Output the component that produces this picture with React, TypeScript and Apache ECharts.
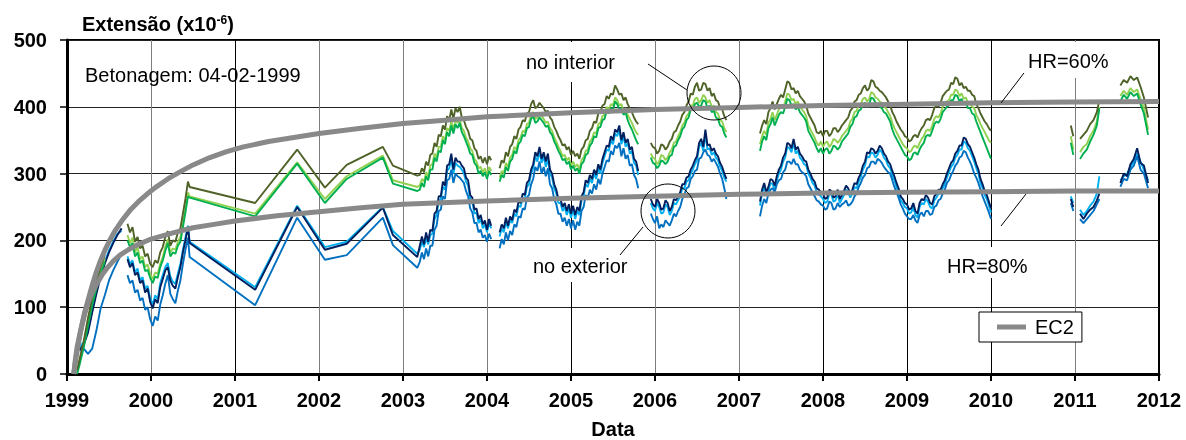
import React, { useEffect, useRef } from "react";
import * as echarts from "echarts";

const FONT = 'Arial, "Liberation Sans", Helvetica, sans-serif';

const X_MIN = 1999;
const X_MAX = 2012;
const Y_MIN = 0;
const Y_MAX = 500;

// sample times of the record, by segment: explicit lists, or a regular sampling {t0, dt}
type SegT = number[] | { t0: number; dt: number };
const SEG_TIMES: SegT[] = [
  [1999.12, 1999.15, 1999.2, 1999.25, 1999.3, 1999.35, 1999.4, 1999.45, 1999.5, 1999.55, 1999.6, 1999.65],
  [1999.72, 1999.75, 1999.78, 1999.81, 1999.84, 1999.87, 1999.9, 1999.93, 1999.96, 1999.99, 2000.02, 2000.05, 2000.08, 2000.11, 2000.14, 2000.17, 2000.2, 2000.23, 2000.26, 2000.29, 2000.32, 2000.35, 2000.38, 2000.41, 2000.44],
  [2000.46, 2001.24, 2001.74, 2002.07, 2002.33, 2002.76, 2002.88, 2003.17],
  { t0: 2003.2, dt: 0.025 },
  { t0: 2004.15, dt: 0.025 },
  { t0: 2005.95, dt: 0.025 },
  { t0: 2007.25, dt: 0.025 },
  [2010.95, 2010.98],
  [2011.06, 2011.1, 2011.14, 2011.18, 2011.22, 2011.26, 2011.29],
  [2011.54, 2011.58, 2011.62, 2011.66, 2011.7, 2011.74, 2011.78, 2011.82, 2011.87],
];
// the line is broken after these segments (no record in between)
const SEG_BREAK = [true, false, false, true, true, true, true, true, true, false];

// ---------- interior gauges (x10^-6) ----------
const INT_OLIVE: (number | null)[][] = [
  [6, 22, 50, 84, 114, 140, 160, 178, null, null, null, null],
  [225, 212, 220, 198, 205, 188, 192, 176, 180, 165, 160, 170, 166, 182, 190, 205, 214, 192, 200, 198, 212, 218, 240, 262, 288],
  [280, 256, 336, 279, 313, 340, 312, 297],
  [298, 308, 302, 318, 312, 328, 330, 346, 340, 358, 356, 372, 366, 386, 380, 396, 382, 398, 392, 400, 384, 380, 370, 364, 352, 350, 338, 334, 322, 326, 316, 324, 314, 326, 320],
  [308, 320, 316, 332, 326, 340, 344, 356, 352, 366, 370, 380, 378, 390, 392, 404, 410, 398, 400, 406, 402, 398, 392, 394, 384, 380, 370, 364, 356, 350, 342, 344, 336, 340, 328, 334, 326, 330, 322, 336, 340, 350, 352, 364, 368, 378, 376, 390, 392, 402, 404, 416, 412, 420, 418, 432, 426, 418, 420, 410, 414, 404, 398, 392, 384, 378, 374],
  [346, 340, 338, 330, 334, 344, 342, 336, 340, 348, 352, 362, 364, 372, 378, 388, 392, 402, 408, 420, 418, 430, 436, 424, 426, 436, 434, 424, 428, 416, 420, 410, 408, 398, 396, 386, 380],
  [360, 372, 380, 374, 392, 398, 408, 396, 404, 412, 418, 414, 426, 438, 436, 426, 428, 420, 424, 416, 412, 408, 402, 390, 384, 378, 372, 362, 360, 364, 356, 364, 364, 356, 360, 368, 368, 362, 366, 372, 376, 380, 384, 394, 398, 408, 410, 418, 420, 428, 432, 424, 428, 440, 438, 430, 428, 424, 422, 418, 414, 408, 402, 392, 386, 378, 372, 366, 362, 356, 354, 348, 350, 356, 358, 354, 362, 368, 372, 380, 382, 380, 388, 398, 402, 400, 406, 416, 420, 424, 426, 436, 434, 444, 442, 432, 436, 428, 430, 424, 424, 418, 416, 404, 398, 390, 384, 378, 374, 368, 364],
  [372, 356],
  [352, 358, 364, 374, 380, 392, 410],
  [432, 440, 436, 446, 440, 444, 430, 414, 384],
];
const INT_LIGHT: (number | null)[][] = [
  [3, 18, 45, 78, 108, 133, 154, 172, null, null, null, null],
  [208, 196, 204, 182, 190, 172, 176, 160, 164, 150, 142, 152, 150, 165, 175, 190, 202, 182, 188, 186, 198, 205, 225, 248, 272],
  [266, 240, 317, 262, 296, 327, 290, 280],
  [282, 292, 288, 302, 296, 312, 314, 330, 324, 340, 340, 356, 350, 368, 364, 378, 366, 380, 376, 382, 368, 364, 354, 348, 338, 334, 322, 318, 308, 310, 302, 308, 298, 310, 304],
  [294, 304, 300, 316, 310, 324, 328, 340, 336, 350, 354, 364, 362, 374, 376, 388, 392, 382, 384, 390, 386, 382, 376, 378, 368, 364, 354, 348, 340, 334, 326, 328, 320, 324, 312, 318, 310, 314, 306, 320, 324, 334, 336, 348, 352, 362, 360, 374, 376, 386, 388, 400, 396, 404, 402, 414, 410, 402, 404, 394, 398, 388, 382, 376, 368, 362, 358],
  [330, 324, 322, 314, 318, 328, 326, 320, 324, 332, 336, 346, 348, 356, 362, 372, 376, 386, 390, 402, 402, 412, 414, 406, 410, 418, 414, 406, 410, 400, 402, 392, 390, 380, 378, 368, 362],
  [344, 356, 364, 358, 376, 382, 392, 380, 388, 396, 400, 398, 408, 420, 418, 410, 412, 404, 408, 400, 396, 392, 386, 372, 366, 360, 354, 346, 342, 348, 340, 346, 348, 340, 344, 352, 350, 346, 350, 356, 360, 364, 368, 378, 382, 392, 394, 402, 404, 412, 414, 408, 412, 422, 420, 414, 412, 408, 406, 400, 398, 392, 386, 376, 368, 362, 356, 350, 344, 340, 338, 332, 334, 340, 342, 338, 346, 352, 356, 364, 366, 364, 372, 382, 386, 384, 390, 400, 404, 408, 410, 418, 418, 426, 424, 416, 420, 412, 414, 406, 406, 400, 398, 388, 382, 374, 368, 362, 356, 350, 346],
  [356, 336],
  [332, 340, 344, 356, 364, 378, 400],
  [416, 424, 418, 428, 422, 426, 412, 398, 366],
];
const INT_GREEN: (number | null)[][] = [
  [0, 14, 40, 72, 103, 128, 150, 168, null, null, null, null],
  [200, 190, 196, 176, 182, 166, 170, 154, 156, 144, 136, 146, 144, 160, 170, 184, 196, 176, 182, 180, 192, 198, 220, 242, 266],
  [264, 236, 315, 256, 292, 324, 285, 274],
  [276, 286, 280, 296, 290, 306, 306, 324, 318, 334, 332, 350, 344, 362, 356, 372, 360, 374, 368, 376, 362, 356, 348, 340, 330, 328, 316, 312, 300, 304, 296, 302, 292, 304, 298],
  [288, 298, 294, 310, 304, 318, 322, 334, 330, 344, 348, 358, 356, 368, 370, 382, 386, 376, 378, 384, 380, 376, 370, 372, 362, 358, 348, 342, 334, 328, 320, 322, 314, 318, 306, 312, 304, 308, 300, 314, 318, 328, 330, 342, 346, 356, 354, 368, 370, 380, 382, 394, 390, 398, 396, 408, 404, 396, 398, 388, 392, 380, 372, 366, 358, 350, 344],
  [324, 316, 314, 308, 312, 320, 318, 314, 318, 326, 328, 340, 342, 350, 356, 366, 370, 380, 384, 396, 396, 404, 406, 400, 402, 410, 408, 398, 402, 392, 394, 384, 382, 372, 370, 360, 354],
  [334, 348, 356, 350, 368, 374, 384, 372, 380, 388, 392, 390, 400, 412, 410, 402, 404, 396, 400, 392, 388, 384, 378, 364, 358, 352, 346, 338, 332, 338, 330, 336, 338, 330, 334, 342, 340, 336, 340, 348, 352, 356, 360, 370, 374, 384, 386, 394, 396, 404, 406, 400, 404, 414, 412, 406, 404, 400, 398, 392, 390, 384, 378, 366, 358, 352, 346, 340, 334, 328, 326, 320, 322, 330, 332, 328, 336, 342, 346, 356, 358, 356, 364, 374, 378, 376, 382, 392, 396, 400, 402, 410, 410, 418, 416, 408, 412, 404, 406, 398, 398, 390, 388, 378, 370, 362, 354, 346, 338, 330, 322],
  [346, 328],
  [322, 330, 336, 348, 358, 372, 398],
  [408, 418, 412, 422, 416, 420, 404, 390, 358],
];

// ---------- exterior gauges (x10^-6) ----------
const EXT_NAVY: (number | null)[][] = [
  [null, 36, 44, 62, 92, 120, 145, 165, 182, 196, 208, 218],
  [172, 160, 166, 148, 152, 136, 140, 122, 128, 108, 98, 112, 106, 130, 142, 155, 160, 140, 132, 128, 145, 160, 182, 200, 220],
  [196, 126, 250, 186, 195, 249, 208, 175],
  [192, 206, 194, 212, 198, 216, 214, 240, 244, 266, 266, 288, 282, 312, 314, 330, 306, 324, 318, 318, 312, 308, 294, 290, 268, 264, 246, 248, 232, 238, 224, 230, 216, 232, 222],
  [212, 224, 218, 234, 222, 236, 230, 246, 242, 258, 256, 270, 268, 286, 290, 306, 314, 332, 326, 340, 322, 332, 318, 330, 306, 300, 284, 276, 262, 262, 250, 256, 244, 254, 240, 252, 238, 250, 244, 266, 272, 290, 286, 298, 292, 306, 298, 314, 306, 322, 332, 342, 340, 356, 350, 366, 362, 372, 350, 362, 346, 352, 336, 340, 322, 318, 304],
  [262, 254, 250, 262, 256, 246, 248, 260, 256, 244, 250, 262, 260, 266, 272, 284, 284, 294, 296, 306, 312, 320, 326, 346, 352, 340, 366, 342, 344, 334, 338, 330, 326, 316, 310, 300, 292],
  [258, 276, 286, 272, 280, 292, 290, 282, 296, 306, 312, 324, 330, 346, 344, 338, 352, 336, 340, 330, 326, 320, 318, 306, 300, 292, 288, 278, 276, 272, 270, 262, 264, 276, 274, 264, 266, 276, 262, 268, 274, 282, 278, 270, 276, 286, 284, 294, 300, 312, 318, 332, 330, 338, 336, 330, 334, 342, 338, 330, 326, 318, 314, 304, 296, 286, 278, 266, 262, 256, 254, 246, 248, 256, 244, 240, 256, 262, 260, 268, 264, 256, 254, 266, 270, 276, 276, 284, 290, 300, 308, 316, 320, 330, 334, 342, 342, 354, 352, 344, 340, 332, 324, 314, 306, 292, 284, 274, 268, 258, 248],
  [262, 250],
  [240, 232, 240, 246, 250, 260, 270],
  [286, 300, 296, 314, 322, 338, 316, 312, 286],
];
const EXT_CYAN: (number | null)[][] = [
  [null, 40, 48, 66, 96, 124, 148, 168, 185, 198, 210, 214],
  [176, 165, 170, 152, 158, 140, 145, 128, 132, 114, 104, 118, 112, 136, 148, 160, 166, 146, 138, 135, 150, 165, 186, 204, 222],
  [198, 130, 252, 190, 198, 250, 214, 180],
  [186, 198, 190, 204, 194, 208, 210, 232, 238, 258, 262, 280, 276, 304, 308, 322, 300, 316, 312, 310, 306, 300, 288, 282, 262, 258, 240, 242, 226, 232, 218, 224, 212, 226, 218],
  [206, 218, 212, 228, 218, 230, 226, 240, 236, 252, 250, 264, 262, 280, 284, 300, 308, 326, 318, 334, 316, 326, 310, 322, 300, 294, 278, 270, 256, 256, 244, 250, 238, 248, 234, 246, 232, 244, 238, 260, 266, 284, 280, 292, 286, 300, 292, 308, 300, 316, 326, 336, 334, 350, 344, 360, 356, 366, 344, 356, 340, 346, 330, 334, 316, 312, 298],
  [256, 248, 244, 256, 250, 240, 242, 254, 250, 238, 244, 256, 254, 260, 266, 278, 278, 288, 290, 300, 306, 314, 320, 340, 346, 334, 360, 336, 338, 328, 332, 324, 320, 310, 304, 294, 288],
  [252, 270, 280, 268, 274, 286, 284, 276, 290, 300, 306, 318, 324, 340, 338, 332, 346, 330, 334, 324, 320, 314, 312, 300, 294, 286, 282, 272, 268, 266, 262, 256, 258, 270, 268, 258, 260, 270, 256, 262, 268, 276, 272, 264, 270, 280, 278, 288, 294, 306, 312, 326, 324, 332, 330, 324, 328, 336, 332, 324, 320, 312, 308, 298, 290, 280, 272, 260, 256, 250, 248, 240, 242, 250, 238, 234, 250, 256, 254, 262, 258, 250, 248, 260, 264, 270, 270, 278, 284, 294, 302, 310, 314, 324, 328, 336, 336, 348, 346, 338, 334, 326, 318, 308, 300, 286, 278, 268, 262, 252, 242],
  [266, 256],
  [246, 238, 244, 252, 258, 270, 296],
  [290, 296, 300, 310, 318, 330, 318, 306, 290],
];
const EXT_BLUE: (number | null)[][] = [
  [null, 35, 38, 30, 38, 65, 98, 118, 140, 155, 168, 180],
  [148, 136, 140, 122, 126, 110, 114, 96, 100, 82, 72, 86, 80, 104, 118, 135, 148, 120, 112, 106, 125, 140, 165, 186, 204],
  [175, 103, 234, 171, 178, 234, 193, 159],
  [168, 182, 172, 188, 176, 192, 192, 216, 222, 244, 246, 266, 262, 290, 292, 306, 286, 300, 296, 294, 290, 286, 274, 266, 248, 242, 226, 226, 212, 216, 204, 208, 198, 210, 202],
  [188, 202, 194, 212, 200, 214, 208, 224, 220, 236, 234, 248, 246, 264, 268, 284, 292, 310, 304, 318, 300, 310, 296, 308, 284, 278, 262, 254, 240, 240, 228, 234, 222, 232, 218, 230, 216, 228, 222, 244, 250, 268, 264, 276, 270, 284, 276, 292, 284, 300, 310, 320, 318, 334, 328, 342, 338, 346, 326, 338, 322, 328, 312, 314, 298, 292, 278],
  [240, 232, 226, 236, 218, 224, 220, 230, 226, 222, 230, 240, 236, 244, 250, 262, 268, 278, 280, 292, 296, 304, 306, 322, 324, 332, 336, 328, 326, 318, 322, 316, 310, 300, 292, 278, 262],
  [236, 252, 262, 256, 270, 276, 278, 272, 284, 290, 292, 302, 306, 318, 318, 314, 322, 314, 314, 306, 302, 300, 296, 284, 278, 272, 266, 260, 258, 254, 252, 246, 248, 258, 256, 246, 248, 256, 250, 254, 256, 260, 252, 254, 258, 266, 270, 280, 286, 294, 298, 308, 310, 318, 318, 314, 322, 320, 316, 310, 306, 302, 300, 290, 280, 272, 264, 254, 248, 240, 236, 232, 232, 238, 230, 226, 238, 242, 236, 244, 244, 238, 240, 250, 252, 260, 262, 270, 276, 286, 290, 298, 304, 312, 316, 324, 326, 334, 332, 324, 318, 310, 300, 294, 286, 276, 266, 258, 250, 242, 232],
  [256, 244],
  [232, 226, 232, 238, 244, 254, 262],
  [280, 292, 290, 306, 312, 326, 306, 300, 278],
];

// ---------- EC2 model curves ----------
const EC2_60_T = [1999.08, 1999.1, 1999.12, 1999.15, 1999.18, 1999.21, 1999.25, 1999.3, 1999.35, 1999.4, 1999.45, 1999.5, 1999.57, 1999.65, 1999.75, 1999.85, 1999.95, 2000.05, 2000.2, 2000.35, 2000.5, 2000.7, 2000.9, 2001.1, 2001.4, 2001.7, 2002.0, 2002.5, 2003.0, 2003.5, 2004.0, 2005.0, 2006.0, 2007.0, 2008.0, 2009.0, 2010.0, 2011.0, 2012.0];
const EC2_60_V = [0, 22, 40, 58, 75, 92, 110, 133, 153, 170, 185, 198, 214, 229, 245, 258, 269, 279, 292, 303, 313, 324, 333, 340, 348, 354, 360, 368, 375, 380, 385, 391, 396, 399, 402, 404, 406, 407, 408];
const EC2_80_T = [1999.08, 1999.1, 1999.12, 1999.15, 1999.18, 1999.21, 1999.25, 1999.3, 1999.36, 1999.42, 1999.48, 1999.55, 1999.63, 1999.73, 1999.83, 2000.0, 2000.25, 2000.5, 2000.75, 2001.0, 2001.5, 2002.0, 2002.5, 2003.0, 2004.0, 2005.0, 2006.0, 2007.0, 2008.0, 2009.0, 2010.0, 2011.0, 2012.0];
const EC2_80_V = [0, 18, 34, 56, 74, 90, 106, 122, 136, 149, 159, 169, 178, 186, 193, 202, 211, 219, 224, 229, 237, 243, 249, 254, 259, 263, 266, 269, 271, 272, 273, 274, 274];

// vertical grid line colours (one per year tick)
const VGRID_COLORS = ["#000", "#7d7d7d", "#000", "#7d7d7d", "#7d7d7d", "#7d7d7d", "#000", "#7d7d7d", "#7d7d7d", "#000", "#000", "#000", "#7d7d7d", "#000"];

function segTimes(s: number, n: number): number[] {
  const st = SEG_TIMES[s];
  if (Array.isArray(st)) return st;
  const out: number[] = [];
  for (let i = 0; i < n; i++) out.push(Math.round((st.t0 + i * st.dt) * 1000) / 1000);
  return out;
}

function buildSeries(segs: (number | null)[][]): (number | null)[][] {
  const out: (number | null)[][] = [];
  SEG_TIMES.forEach((_, s) => {
    const vals = segs[s] || [];
    const ts = segTimes(s, vals.length);
    ts.forEach((t, i) => {
      const v = vals[i];
      out.push([t, v === undefined ? null : v]);
    });
    if (SEG_BREAK[s]) out.push([ts[ts.length - 1] + 0.01, null]);
  });
  return out;
}

function pairs(ts: number[], vs: number[]) {
  return ts.map((t, i) => [t, vs[i]]);
}

export default function App() {
  const ref = useRef<HTMLDivElement>(null);

  useEffect(() => {
    if (!ref.current) return;
    const chart = echarts.init(ref.current, null, { renderer: "svg" });

    const measLine = (name: string, color: string, segs: (number | null)[][]) => ({
      name,
      type: "line",
      data: buildSeries(segs),
      showSymbol: false,
      connectNulls: false,
      lineStyle: { color, width: 1.9 },
      itemStyle: { color },
      emphasis: { disabled: true },
      z: 2,
    });

    const ec2Line = (data: number[][]) => ({
      name: "EC2",
      type: "line",
      data,
      showSymbol: false,
      smooth: false,
      lineStyle: { color: "#898989", width: 5, join: "round" },
      itemStyle: { color: "#898989" },
      emphasis: { disabled: true },
      z: 3,
    });

    const txt = (x: number, y: number, text: string) => ({
      type: "text",
      x,
      y,
      z: 20,
      style: { text, fontFamily: FONT, fontSize: 20, fill: "#000", verticalAlign: "middle", align: "left" },
    });
    const box = (x: number, y: number, w: number, h: number) => ({
      type: "rect",
      z: 15,
      shape: { x, y, width: w, height: h },
      style: { fill: "#fff" },
    });
    const seg = (x1: number, y1: number, x2: number, y2: number) => ({
      type: "line",
      z: 20,
      shape: { x1, y1, x2, y2 },
      style: { stroke: "#000", lineWidth: 1 },
    });
    const circ = (cx: number, cy: number, r: number) => ({
      type: "circle",
      z: 20,
      shape: { cx, cy, r },
      style: { fill: "none", stroke: "#000", lineWidth: 1 },
    });

    chart.setOption({
      animation: false,
      grid: {
        left: 67,
        right: 27,
        top: 40,
        bottom: 66,
        containLabel: false,
        outerBoundsMode: "none",
        show: true,
        borderColor: "#000",
        borderWidth: 2,
        backgroundColor: "transparent",
      },
      legend: {
        data: [{ name: "EC2", icon: "rect" }],
        left: 979,
        top: 312,
        padding: [5, 8, 5, 18],
        itemWidth: 29,
        itemHeight: 5,
        selectedMode: false,
        backgroundColor: "#fff",
        borderColor: "#000",
        borderWidth: 1,
        borderRadius: 0,
        textStyle: { fontFamily: FONT, fontSize: 20, color: "#000", padding: [0, 0, 0, 4] },
        z: 30,
      },
      xAxis: {
        type: "value",
        min: X_MIN,
        max: X_MAX,
        interval: 1,
        name: "Data",
        nameLocation: "middle",
        nameGap: 45,
        nameTextStyle: { fontFamily: FONT, fontSize: 20, fontWeight: "bold", color: "#000" },
        axisLine: { show: true, onZero: false, lineStyle: { color: "#000", width: 3 } },
        axisTick: { show: true, inside: false, length: 7, lineStyle: { color: "#000", width: 2 } },
        axisLabel: {
          margin: 16,
          fontFamily: FONT,
          fontSize: 20,
          fontWeight: "bold",
          color: "#000",
          formatter: (v: number) => String(Math.round(v)),
        },
        splitLine: { show: true, lineStyle: { color: VGRID_COLORS, width: 1 } },
      },
      yAxis: {
        type: "value",
        min: Y_MIN,
        max: Y_MAX,
        interval: 100,
        axisLine: { show: true, lineStyle: { color: "#000", width: 3 } },
        axisTick: { show: true, inside: false, length: 7, lineStyle: { color: "#000", width: 1.5 } },
        axisLabel: { margin: 20, fontFamily: FONT, fontSize: 20, fontWeight: "bold", color: "#000" },
        splitLine: { show: true, lineStyle: { color: "#222", width: 1 } },
      },
      series: [
        measLine("ext-cyan", "#00B0F0", EXT_CYAN),
        measLine("ext-blue", "#0070C0", EXT_BLUE),
        measLine("ext-navy", "#002060", EXT_NAVY),
        measLine("int-light", "#92D050", INT_LIGHT),
        measLine("int-green", "#00B050", INT_GREEN),
        measLine("int-olive", "#4F6228", INT_OLIVE),
        ec2Line(pairs(EC2_60_T, EC2_60_V)),
        ec2Line(pairs(EC2_80_T, EC2_80_V)),
      ],
      graphic: [
        {
          type: "text",
          x: 82,
          y: 24,
          z: 20,
          style: {
            text: "{a|Extensão (x10}{s|-6}{a|)}",
            verticalAlign: "middle",
            rich: {
              a: { fontFamily: FONT, fontSize: 20, fontWeight: "bold", fill: "#000", color: "#000" },
              s: { fontFamily: FONT, fontSize: 12, fontWeight: "bold", fill: "#000", color: "#000", verticalAlign: "top" },
            },
          },
        },
        txt(85, 75, "Betonagem: 04-02-1999"),
        box(520, 42, 106, 40),
        box(528, 248, 108, 34),
        box(942, 247, 94, 31),
        box(1022, 42, 94, 36),
        txt(526, 62, "no interior"),
        txt(533, 266, "no exterior"),
        txt(1028, 61, "HR=60%"),
        txt(947, 266, "HR=80%"),
        seg(648, 64, 687, 90),
        seg(620, 255, 643, 227),
        seg(1024, 73, 1001, 103),
        seg(1026, 194, 1001, 226),
        circ(714, 93, 27),
        circ(668, 211, 27),
      ],
    });

    return () => chart.dispose();
  }, []);

  return <div ref={ref} style={{ position: "fixed", left: 0, top: 0, width: 1186, height: 440 }} />;
}
